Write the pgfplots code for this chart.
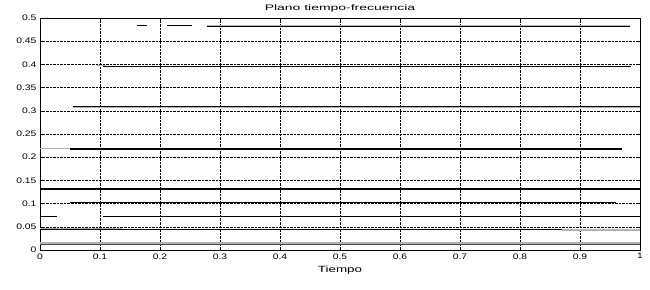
\documentclass[border=0pt]{standalone}
\usepackage{pgfplots}
\pgfplotsset{compat=1.18}
\usepackage{fontspec}
\setmainfont{Liberation Sans}
\newfontfamily\widea[FakeStretch=1.3]{Liberation Sans}
\newfontfamily\wideb[FakeStretch=1.5]{Liberation Sans}
\newfontfamily\widec[FakeStretch=1.75]{Liberation Sans}
\begin{document}
\begin{tikzpicture}
\begin{axis}[
  name=ax,
  scale only axis,
  width=600bp, height=232bp,
  xmin=0, xmax=1, ymin=0, ymax=0.5,
  xtick={0,0.1,...,1.0},
  ytick={0,0.05,...,0.5},
  xticklabels={0,0.1,0.2,0.3,0.4,0.5,0.6,0.7,0.8,0.9,1},
  yticklabels={0,0.05,0.1,0.15,0.2,0.25,0.3,0.35,0.4,0.45,0.5},
  grid=major,
  grid style={black, densely dotted, line width=0.5pt},
  tick align=inside,
  tick pos=both,
  major tick length=3bp,
  axis line style={black, line width=0.8pt},
  tick style={black},
  ticklabel style={font=\widea\fontsize{8}{9}\selectfont},
  /pgf/number format/assume math mode=true,
  xlabel={Tiempo},
  xlabel style={font=\wideb\fontsize{9}{10}\selectfont, yshift=0bp},
  title={Plano tiempo-frecuencia},
  title style={font=\widec\fontsize{8}{9}\selectfont, yshift=-4bp},
]
% 0.483 band
\addplot[black, line width=1.2pt] coordinates {(0.162,0.483) (0.178,0.483)};
\addplot[black, line width=1.2pt] coordinates {(0.212,0.483) (0.253,0.483)};
\addplot[gray!60, line width=2pt] coordinates {(0.278,0.483) (0.983,0.483)};
\addplot[black, line width=0.8pt] coordinates {(0.278,0.482) (0.983,0.482)};
% 0.395
\addplot[gray!60, line width=1pt] coordinates {(0.095,0.397) (0.11,0.397)};
\addplot[black, line width=1.2pt] coordinates {(0.105,0.395) (0.985,0.395)};
% 0.309
\addplot[gray!60, line width=2.2pt] coordinates {(0.055,0.309) (1.0,0.309)};
\addplot[black, line width=1.2pt] coordinates {(0.055,0.310) (1.0,0.310)};
% 0.219
\addplot[gray!60, line width=1pt] coordinates {(0.0,0.219) (0.05,0.219)};
\addplot[black, line width=1.4pt] coordinates {(0.05,0.218) (0.97,0.218)};
% 0.131
\addplot[black, line width=1.6pt] coordinates {(0.0,0.131) (1.0,0.131)};
% 0.103
\addplot[black, line width=0.9pt] coordinates {(0.05,0.102) (0.96,0.102)};
% 0.073
\addplot[black, line width=1.2pt] coordinates {(0.0,0.073) (0.028,0.073)};
\addplot[black, line width=1.2pt] coordinates {(0.105,0.073) (1.0,0.073)};
% 0.044
\addplot[gray!60, line width=1.6pt] coordinates {(0.0,0.045) (0.136,0.045)};
\addplot[black, line width=1pt] coordinates {(0.0,0.044) (1.0,0.044)};
\addplot[gray!60, line width=1.6pt] coordinates {(0.87,0.043) (1.0,0.043)};
% 0.013
\addplot[gray!60, line width=2pt] coordinates {(0.0,0.014) (1.0,0.014)};
\addplot[black!70, line width=0.5pt] coordinates {(0.0,0.012) (1.0,0.012)};
\end{axis}
\pgfresetboundingbox
\path ([shift={(-40bp,-40bp)}]ax.south west) rectangle ([shift={(10bp,18bp)}]ax.north east);
\end{tikzpicture}
\end{document}
